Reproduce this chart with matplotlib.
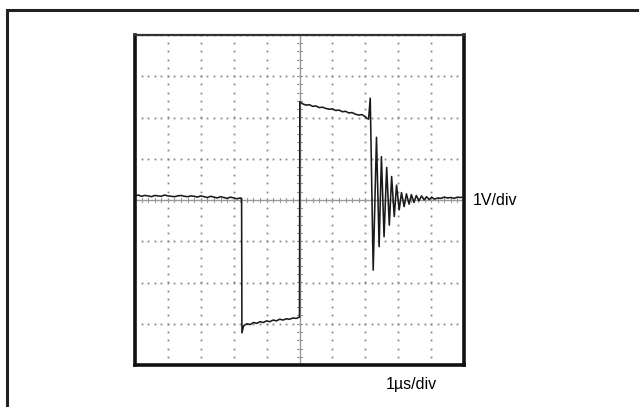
import matplotlib
matplotlib.use("Agg")
import matplotlib.pyplot as plt
from matplotlib.patches import Rectangle
import numpy as np

# ---- data (time in us, voltage in V) ----
t_base = [0.0, 0.1, 0.2, 0.3, 0.4, 0.5, 0.6, 0.7, 0.8, 0.9, 1.0, 1.1, 1.2, 1.3, 1.4, 1.5,
          1.6, 1.7, 1.8, 1.9, 2.0, 2.1, 2.2, 2.3, 2.4, 2.5, 2.6, 2.7, 2.8, 2.9, 3.0, 3.1, 3.2, 3.24]
v_base = [0.10, 0.12, 0.09, 0.11, 0.10, 0.08, 0.11, 0.10, 0.09, 0.12, 0.10, 0.09, 0.08, 0.10,
          0.11, 0.09, 0.08, 0.10, 0.09, 0.07, 0.10, 0.08, 0.06, 0.09, 0.07, 0.05, 0.08, 0.06,
          0.04, 0.07, 0.05, 0.03, 0.05, 0.04]

t_low = [3.25, 3.30, 3.40, 3.50, 3.60, 3.70, 3.80, 3.90, 4.00, 4.10, 4.20, 4.30, 4.40,
         4.50, 4.60, 4.70, 4.80, 4.90, 5.00]
v_low = [-3.22, -3.05, -3.00, -3.02, -2.97, -2.99, -2.95, -2.97, -2.93, -2.95, -2.91,
         -2.93, -2.89, -2.91, -2.88, -2.89, -2.86, -2.87, -2.84]

t_high = [5.01, 5.10, 5.20, 5.30, 5.40, 5.50, 5.60, 5.70, 5.80, 5.90, 6.00, 6.10, 6.20,
          6.30, 6.40, 6.50, 6.60, 6.70, 6.80, 6.90, 7.00, 7.05, 7.10]
v_high = [2.38, 2.33, 2.30, 2.31, 2.27, 2.28, 2.24, 2.25, 2.22, 2.20, 2.21, 2.17, 2.18,
          2.14, 2.15, 2.11, 2.12, 2.08, 2.06, 2.07, 2.02, 1.98, 1.96]

t_ring = [7.15, 7.24, 7.34, 7.42, 7.49, 7.57, 7.65, 7.73, 7.80, 7.88, 7.95, 8.03, 8.10,
          8.18, 8.25, 8.33, 8.40, 8.48, 8.55, 8.63, 8.71, 8.79, 8.86, 8.94, 9.02, 9.10]
v_ring = [2.47, -1.70, 1.52, -1.13, 1.05, -0.89, 0.79, -0.61, 0.57, -0.40, 0.36, -0.24,
          0.18, -0.16, 0.15, -0.10, 0.13, -0.06, 0.11, -0.02, 0.10, 0.00, 0.08, 0.01, 0.07, 0.02]

t_tail = [9.2, 9.3, 9.4, 9.5, 9.6, 9.7, 9.8, 9.9, 10.0]
v_tail = [0.05, 0.04, 0.07, 0.05, 0.06, 0.04, 0.07, 0.06, 0.08]

x_label = "1\u00b5s/div"
y_label = "1V/div"

W, H = 639, 407
fig = plt.figure(figsize=(W / 100, H / 100), dpi=100)
fig.patch.set_facecolor("white")

# outer frame
fig.add_artist(Rectangle((7 / W, -0.2), 1.5, (H - 10) / H + 0.2, transform=fig.transFigure,
                         fill=False, lw=2.2, ec="#222222"))

# plot area
L, R, T, B = 135, 464, 35, 365
ax = fig.add_axes([L / W, (H - B) / H, (R - L) / W, (B - T) / H])
ax.set_xlim(0, 10)
ax.set_ylim(-4, 4)
ax.set_xticks([])
ax.set_yticks([])
for s in ["left", "bottom", "right"]:
    ax.spines[s].set_linewidth(2.6)
    ax.spines[s].set_color("#111111")
ax.spines["top"].set_linewidth(1.6)
ax.spines["top"].set_color("#333333")

dot_kw = dict(linestyle="none", marker="s", markersize=1.3, color="#8a8a8a",
              markeredgewidth=0, zorder=1)
yy = np.arange(-4, 4.001, 0.2)
xx = np.arange(0, 10.001, 0.2)
for gx in range(0, 11):
    if gx == 5:
        continue
    ax.plot(np.full_like(yy, gx), yy, **dot_kw)
for gy in range(-4, 5):
    if gy == 0:
        continue
    ax.plot(xx, np.full_like(xx, gy), **dot_kw)

# center axes with ticks
ax.axhline(0, color="#9a9a9a", lw=1.0, zorder=1)
ax.axvline(5, color="#9a9a9a", lw=1.0, zorder=1)
for x in xx:
    ax.plot([x, x], [-0.06, 0.06], color="#9a9a9a", lw=0.8, zorder=1)
for y in yy:
    ax.plot([4.93, 5.07], [y, y], color="#9a9a9a", lw=0.8, zorder=1)

t_all = t_base + t_low + t_high + t_ring + t_tail
v_all = v_base + v_low + v_high + v_ring + v_tail
ax.plot(t_all, v_all, color="#1a1a1a", lw=1.15, zorder=3)

fam = ["Liberation Sans Narrow", "Liberation Sans", "DejaVu Sans"]
fig.text(473 / W, 1 - 200 / H, y_label, ha="left", va="center", fontsize=11.5, family=fam)
fig.text(411 / W, 1 - 385 / H, x_label, ha="center", va="center", fontsize=11.5, family=fam)

fig.savefig("out.png", dpi=100)
